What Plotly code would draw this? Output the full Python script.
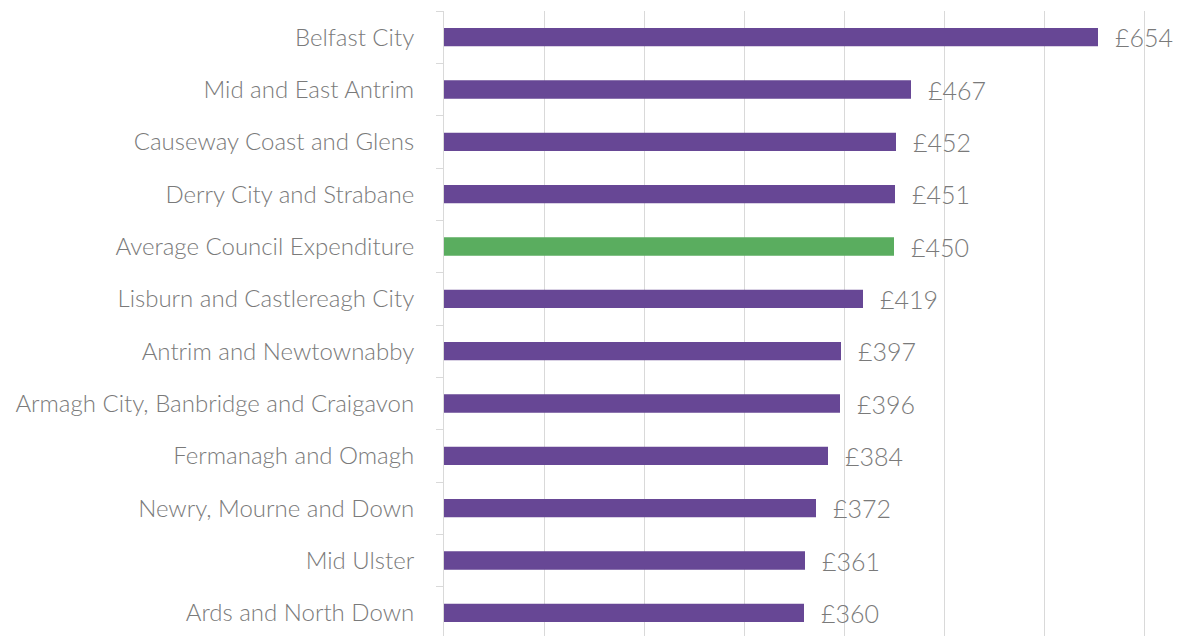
import plotly.graph_objects as go

# ==================================================
# DATA
# ==================================================
councils = [
    "Belfast City",
    "Mid and East Antrim",
    "Causeway Coast and Glens",
    "Derry City and Strabane",
    "Average Council Expenditure",
    "Lisburn and Castlereagh City",
    "Antrim and Newtownabby",
    "Armagh City, Banbridge and Craigavon",
    "Fermanagh and Omagh",
    "Newry, Mourne and Down",
    "Mid Ulster",
    "Ards and North Down",
]
spend = [654, 467, 452, 451, 450, 419, 397, 396, 384, 372, 361, 360]

PURPLE = "#674795"
GREEN = "#5aad5f"
TEXT = "#7a7a7a"
FONT = "Lato"

colors = [GREEN if c.startswith("Average") else PURPLE for c in councils]

# ==================================================
# FIGURE
# ==================================================
fig = go.Figure(go.Bar(
    x=spend,
    y=councils,
    orientation="h",
    marker=dict(color=colors, line=dict(width=0)),
    hoverinfo="x+y",
    showlegend=False,
))

# value labels
for c, v in zip(councils, spend):
    fig.add_annotation(
        x=v, y=c, text=f"£{v}", showarrow=False,
        xanchor="left", xshift=15,
        font=dict(family=FONT, size=25, color=TEXT, weight=300),
    )

# page body has an 8px margin, so the margins are trimmed to match
fig.update_layout(
    width=1189,
    height=636,
    margin=dict(l=436, r=0, t=3, b=5),
    plot_bgcolor="white",
    paper_bgcolor="white",
    bargap=0.65,
    font=dict(family=FONT, size=24, color=TEXT, weight=300),
    xaxis=dict(
        range=[0, 753],
        dtick=100,
        showgrid=True,
        gridcolor="#d9d9d9",
        gridwidth=1,
        zeroline=False,
        showticklabels=False,
        fixedrange=True,
    ),
    yaxis=dict(
        autorange="reversed",
        showline=True,
        linecolor="#d9d9d9",
        linewidth=1,
        ticks="outside",
        tickson="boundaries",
        ticklen=7,
        tickcolor="#d9d9d9",
        ticklabelstandoff=24,
        tickfont=dict(family=FONT, size=24, color=TEXT, weight=300),
        showgrid=False,
    ),
)

fig.write_html("out.html")
